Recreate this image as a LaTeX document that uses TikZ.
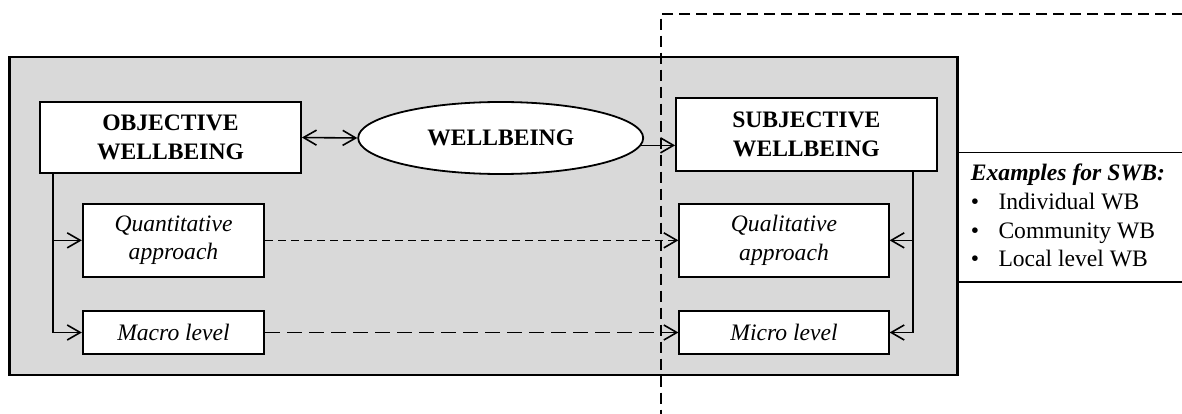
\documentclass[tikz,border=0pt]{standalone}
\usepackage{fontspec}
\setmainfont{Liberation Serif}
\usetikzlibrary{arrows.meta,shapes.geometric}
\definecolor{bg}{RGB}{217,217,217}
\begin{document}
\begin{tikzpicture}[x=1pt,y=-1pt,
  every node/.style={font=\fontsize{23.6}{28.5}\selectfont},
  box/.style={draw, fill=white, line width=1.8pt, inner sep=0pt, align=center},
  tip/.tip={Straight Barb[length=13pt,width=15pt,line width=1.6pt]},
  arr/.style={line width=1.6pt, -tip},
  frame/.style={line width=1.7pt, dash pattern=on 11pt off 6pt},
  txt/.style={anchor=base west, inner sep=0pt}]
\useasboundingbox (0,0) rectangle (1182,414);
% gray panel
\node[draw, fill=bg, line width=2.4pt, inner sep=0pt, minimum width=948pt, minimum height=318pt] (panel) at (483.3,216) {};
% dashed frame
\coordinate (frtop) at (1200,14);
\coordinate (frcorner) at (660.7,14);
\coordinate (frbot) at (660.7,425);
\draw[frame] (frtop) -- (frcorner) -- (frbot);
% examples box
\node[draw, fill=white, line width=1.8pt, inner sep=0pt, minimum width=240pt, minimum height=129.3pt, anchor=north west] (exbox) at (957.3,151.7) {};
% nodes
\node[box, minimum width=261pt, minimum height=71.6pt] (obj) at (170.5,137.5) {\textbf{OBJECTIVE}\\\textbf{WELLBEING}};
\node[draw, fill=white, ellipse, line width=1.8pt, inner sep=0pt, minimum width=285pt, minimum height=72pt] (ell) at (500.7,138) {\textbf{WELLBEING}};
\node[box, minimum width=260.7pt, minimum height=72.7pt] (subj) at (806.35,134.35) {\textbf{SUBJECTIVE}\\\textbf{WELLBEING}};
\node[box, minimum width=181.6pt, minimum height=72.7pt] (quant) at (173.5,240.35) {\textit{Quantitative}\\\textit{approach}};
\node[box, minimum width=181.6pt, minimum height=43pt] (macro) at (173.5,332.5) {\textit{Macro level}};
\node[box, minimum width=209.4pt, minimum height=72.7pt] (qual) at (784,240.35) {\textit{Qualitative}\\\textit{approach}};
\node[box, minimum width=209.4pt, minimum height=43pt] (micro) at (784,332.5) {\textit{Micro level}};
% examples text
\node[txt] (ex0) at (970.7,180.7) {\textbf{\textit{Examples for SWB:}}};
\node[txt] (ex1) at (970.7,209.5) {\makebox[27.6pt][l]{\textbullet}Individual WB};
\node[txt] (ex2) at (970.7,238.2) {\makebox[27.6pt][l]{\textbullet}Community WB};
\node[txt] (ex3) at (970.7,266.9) {\makebox[27.6pt][l]{\textbullet}Local level WB};
% connectors
\draw[line width=1.6pt, tip-tip] (obj.east) -- (ell.west);
\draw[arr] (ell.-3) -- (ell.-3 -| subj.west);
\coordinate (lt) at ([xshift=14pt]obj.south west);
\draw[arr] (lt) |- (macro.west);
\draw[arr] (lt |- quant.west) -- (quant.west);
\coordinate (rt) at ([xshift=-24.4pt]subj.south east);
\draw[arr] (rt) |- (micro.east);
\draw[arr] (rt |- qual.east) -- (qual.east);
\draw[arr, dash pattern=on 8pt off 5pt] (quant.east) -- (qual.west);
\draw[arr, dash pattern=on 15pt off 7pt] (macro.east) -- (micro.west);
\end{tikzpicture}
\end{document}
